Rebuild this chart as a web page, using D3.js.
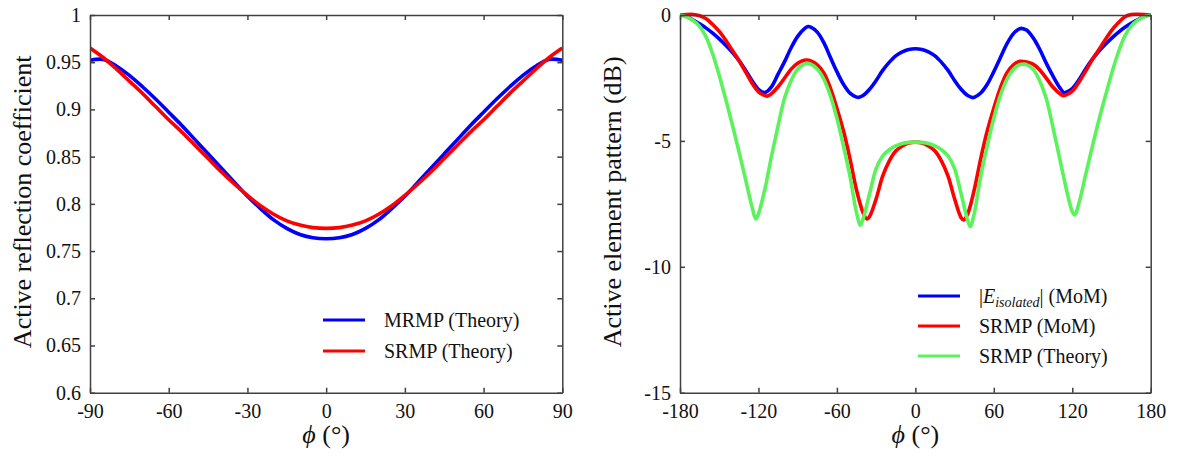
<!DOCTYPE html>
<html>
<head>
<meta charset="utf-8">
<script src="https://cdn.jsdelivr.net/npm/d3@7"></script>
<style>
  html, body { margin: 0; padding: 0; background: #fff; }
  svg { display: block; font-family: "Liberation Serif", "Times New Roman", serif; }
  .axis path, .axis line { stroke: #404040; stroke-width: 1.5; }
  .axis text { fill: #111; font-size: 20px; font-family: "Liberation Serif", serif; }
</style>
</head>
<body>
<div id="chart"></div>
<script>
// Left panel: active reflection coefficient vs phi
const phiLeft = [-90, -85, -80, -75, -70, -65, -60, -55, -50, -45, -40, -35, -30, -25, -20, -15, -10, -5, 0,
                 5, 10, 15, 20, 25, 30, 35, 40, 45, 50, 55, 60, 65, 70, 75, 80, 85, 90];
const mrmpTheory = [0.952, 0.953, 0.946, 0.936, 0.924, 0.911, 0.897, 0.883, 0.868, 0.853, 0.838, 0.823, 0.808, 0.795, 0.783, 0.774, 0.7675, 0.764, 0.763,
                    0.764, 0.7675, 0.774, 0.783, 0.795, 0.808, 0.823, 0.838, 0.853, 0.868, 0.883, 0.897, 0.911, 0.924, 0.936, 0.946, 0.953, 0.952];
const srmpTheoryL = [0.965, 0.955, 0.943, 0.930, 0.917, 0.903, 0.889, 0.876, 0.862, 0.848, 0.834, 0.821, 0.809, 0.798, 0.789, 0.782, 0.7775, 0.7748, 0.774,
                     0.7748, 0.7775, 0.782, 0.789, 0.798, 0.809, 0.821, 0.834, 0.848, 0.862, 0.876, 0.889, 0.903, 0.917, 0.930, 0.943, 0.955, 0.965];

// Right panel: active element pattern (dB) vs phi
const phiIso = [-180, -175, -170, -165, -160, -155, -150, -145, -140, -135, -130, -125, -120, -115, -110, -105, -100, -95, -90, -85, -82, -80, -75, -70, -65, -60, -55, -50, -45, -43, -40, -35, -30, -25, -20, -15, -10, -5, 0,
                5, 10, 15, 20, 25, 30, 35, 40, 44, 45, 50, 55, 60, 65, 70, 75, 80, 81, 85, 90, 95, 100, 105, 110, 114, 115, 120, 125, 130, 135, 140, 145, 150, 155, 160, 165, 170, 175, 180];
const isoMoM = [0, -0.05, -0.2, -0.35, -0.52, -0.72, -0.95, -1.2, -1.48, -1.8, -2.18, -2.6, -2.95, -3.08, -2.85, -2.35, -1.85, -1.3, -0.85, -0.55, -0.46, -0.48, -0.68, -1.1, -1.68, -2.25, -2.75, -3.1, -3.26, -3.27, -3.2, -2.95, -2.6, -2.2, -1.88, -1.62, -1.46, -1.37, -1.34,
                -1.37, -1.46, -1.62, -1.88, -2.2, -2.6, -2.95, -3.2, -3.28, -3.27, -3.1, -2.75, -2.25, -1.7, -1.15, -0.74, -0.54, -0.53, -0.6, -0.9, -1.35, -1.9, -2.4, -2.85, -3.1, -3.08, -2.92, -2.58, -2.16, -1.78, -1.46, -1.18, -0.93, -0.7, -0.5, -0.33, -0.19, -0.05, 0];

const phiSrmpMoM = [-180, -175, -170, -165, -160, -155, -150, -145, -140, -135, -130, -125, -120, -115, -113, -110, -105, -100, -95, -90, -85, -83, -80, -75, -70, -65, -60, -55, -50, -45, -40, -37, -35, -30, -25, -20, -15, -10, -5, 0,
                    5, 10, 15, 20, 25, 30, 35, 37, 40, 45, 50, 55, 60, 65, 70, 75, 80, 83, 85, 90, 95, 100, 105, 110, 113, 115, 120, 125, 130, 135, 140, 145, 150, 155, 160, 165, 170, 175, 180];
const srmpMoM = [0, 0.02, 0.02, -0.03, -0.15, -0.38, -0.65, -1.0, -1.4, -1.8, -2.25, -2.7, -3.05, -3.2, -3.22, -3.12, -2.85, -2.5, -2.15, -1.92, -1.8, -1.79, -1.82, -1.98, -2.3, -2.9, -3.7, -4.6, -5.7, -6.95, -7.85, -8.1, -8.0, -7.3, -6.4, -5.8, -5.4, -5.2, -5.08, -5.05,
                 -5.08, -5.2, -5.4, -5.8, -6.4, -7.3, -8.05, -8.14, -7.9, -6.95, -5.7, -4.6, -3.7, -2.9, -2.3, -1.98, -1.84, -1.85, -1.87, -1.95, -2.17, -2.5, -2.85, -3.1, -3.2, -3.18, -3.02, -2.68, -2.25, -1.8, -1.4, -1.0, -0.62, -0.32, -0.08, 0.02, 0.03, 0.02, 0];

const phiSrmpTh = [-180, -175, -170, -165, -160, -155, -150, -145, -140, -135, -130, -125, -122, -120, -115, -110, -105, -100, -95, -90, -85, -83, -80, -75, -70, -65, -60, -55, -50, -45, -42, -40, -35, -30, -25, -20, -15, -10, -5, 0,
                   5, 10, 15, 20, 25, 30, 35, 40, 42, 45, 50, 55, 60, 65, 70, 75, 80, 83, 85, 90, 95, 100, 105, 110, 115, 120, 122, 125, 130, 135, 140, 145, 150, 155, 160, 165, 170, 175, 180];
const srmpTheoryR = [0, -0.08, -0.22, -0.45, -0.88, -1.55, -2.4, -3.35, -4.35, -5.4, -6.5, -7.6, -8.1, -7.9, -6.9, -5.6, -4.4, -3.3, -2.6, -2.15, -1.95, -1.92, -1.95, -2.15, -2.55, -3.2, -4.1, -5.2, -6.4, -7.85, -8.35, -8.1, -7.1, -6.1, -5.6, -5.35, -5.2, -5.1, -5.06, -5.05,
                     -5.06, -5.1, -5.2, -5.35, -5.6, -6.1, -7.1, -8.15, -8.4, -7.9, -6.4, -5.2, -4.1, -3.2, -2.55, -2.15, -1.97, -1.95, -1.97, -2.15, -2.6, -3.3, -4.4, -5.6, -6.8, -7.8, -7.94, -7.5, -6.4, -5.3, -4.25, -3.28, -2.35, -1.52, -0.86, -0.44, -0.21, -0.07, 0];

const W = 1183, H = 457;
const svg = d3.select('#chart').append('svg')
    .attr('width', W)
    .attr('height', H);

svg.append('rect').attr('width', W).attr('height', H).attr('fill', '#fff');

function drawPanel(cfg) {
    const x = d3.scaleLinear().domain(cfg.xDomain).range([cfg.left, cfg.right]);
    const y = d3.scaleLinear().domain(cfg.yDomain).range([cfg.bottom, cfg.top]);
    const fmt = d => String(+d.toFixed(2));

    const g = svg.append('g');

    // Curves
    const clipId = 'clip-' + cfg.name;
    svg.append('clipPath').attr('id', clipId)
        .append('rect')
        .attr('x', cfg.left).attr('y', cfg.top - 3)
        .attr('width', cfg.right - cfg.left).attr('height', cfg.bottom - cfg.top + 3);

    cfg.series.forEach(s => {
        const line = d3.line()
            .x((d, i) => x(s.phi[i]))
            .y(d => y(d))
            .curve(d3.curveCatmullRom.alpha(0.5));
        g.append('path')
            .datum(s.values)
            .attr('clip-path', `url(#${clipId})`)
            .attr('fill', 'none')
            .attr('stroke', s.color)
            .attr('stroke-width', 3.6)
            .attr('stroke-linejoin', 'round')
            .attr('d', line);
    });

    // Axes (ticks point inward)
    g.append('g')
        .attr('class', 'axis')
        .attr('transform', `translate(0,${cfg.bottom})`)
        .call(d3.axisBottom(x).tickValues(cfg.xTicks).tickFormat(fmt)
            .tickSizeInner(-5).tickSizeOuter(0).tickPadding(11));

    g.append('g')
        .attr('class', 'axis')
        .attr('transform', `translate(0,${cfg.top})`)
        .call(d3.axisTop(x).tickValues(cfg.xTicks).tickFormat('')
            .tickSizeInner(-5).tickSizeOuter(0));

    g.append('g')
        .attr('class', 'axis')
        .attr('transform', `translate(${cfg.left},0)`)
        .call(d3.axisLeft(y).tickValues(cfg.yTicks).tickFormat(fmt)
            .tickSizeInner(-5).tickSizeOuter(0).tickPadding(9));

    g.append('g')
        .attr('class', 'axis')
        .attr('transform', `translate(${cfg.right},0)`)
        .call(d3.axisRight(y).tickValues(cfg.yTicks).tickFormat('')
            .tickSizeInner(-5).tickSizeOuter(0));

    // Axis titles
    const xl = g.append('text')
        .attr('x', (cfg.left + cfg.right) / 2)
        .attr('y', 443)
        .attr('text-anchor', 'middle')
        .attr('font-size', '26px')
        .attr('fill', '#111');
    xl.append('tspan').attr('font-style', 'italic').text('\u03d5');
    xl.append('tspan').text(' (\u00b0)');

    g.append('text')
        .attr('transform', `translate(${cfg.yTitleX},${(cfg.top + cfg.bottom) / 2 - 2}) rotate(-90)`)
        .attr('text-anchor', 'middle')
        .attr('font-size', '26px')
        .attr('fill', '#111')
        .text(cfg.yTitle);

    // Legend
    cfg.series.forEach((s, i) => {
        const ly = cfg.legendY + i * cfg.legendStep;
        g.append('line')
            .attr('x1', cfg.legendX).attr('x2', cfg.legendX + 42)
            .attr('y1', ly).attr('y2', ly)
            .attr('stroke', s.color)
            .attr('stroke-width', 3);
        const t = g.append('text')
            .attr('x', cfg.legendX + 61)
            .attr('y', ly + 7)
            .attr('font-size', '20px')
            .attr('fill', '#111');
        s.label(t);
    });
}

drawPanel({
    name: 'left',
    left: 90, right: 562.3, top: 15, bottom: 392.7,
    xDomain: [-90, 90], yDomain: [0.6, 1],
    xTicks: [-90, -60, -30, 0, 30, 60, 90],
    yTicks: [0.6, 0.65, 0.7, 0.75, 0.8, 0.85, 0.9, 0.95, 1],
    yTitle: 'Active reflection coefficient', yTitleX: 31,
    legendX: 323, legendY: 320, legendStep: 31,
    series: [
        { phi: phiLeft, values: mrmpTheory, color: '#0000ff', label: t => t.text('MRMP (Theory)') },
        { phi: phiLeft, values: srmpTheoryL, color: '#ff0000', label: t => t.text('SRMP (Theory)') }
    ]
});

drawPanel({
    name: 'right',
    left: 680, right: 1150.7, top: 15, bottom: 392.7,
    xDomain: [-180, 180], yDomain: [-15, 0],
    xTicks: [-180, -120, -60, 0, 60, 120, 180],
    yTicks: [-15, -10, -5, 0],
    yTitle: 'Active element pattern (dB)', yTitleX: 621,
    legendX: 918, legendY: 296, legendStep: 30,
    series: [
        { phi: phiIso, values: isoMoM, color: '#0000ff', label: t => {
            t.append('tspan').text('|');
            t.append('tspan').attr('font-style', 'italic').text('E');
            t.append('tspan').attr('font-style', 'italic').attr('font-size', '14px').attr('dy', 4).text('isolated');
            t.append('tspan').attr('dy', -4).text('| (MoM)');
        } },
        { phi: phiSrmpMoM, values: srmpMoM, color: '#ff0000', label: t => t.text('SRMP (MoM)') },
        { phi: phiSrmpTh, values: srmpTheoryR, color: '#5cf25c', label: t => t.text('SRMP (Theory)') }
    ]
});
</script>
</body>
</html>
